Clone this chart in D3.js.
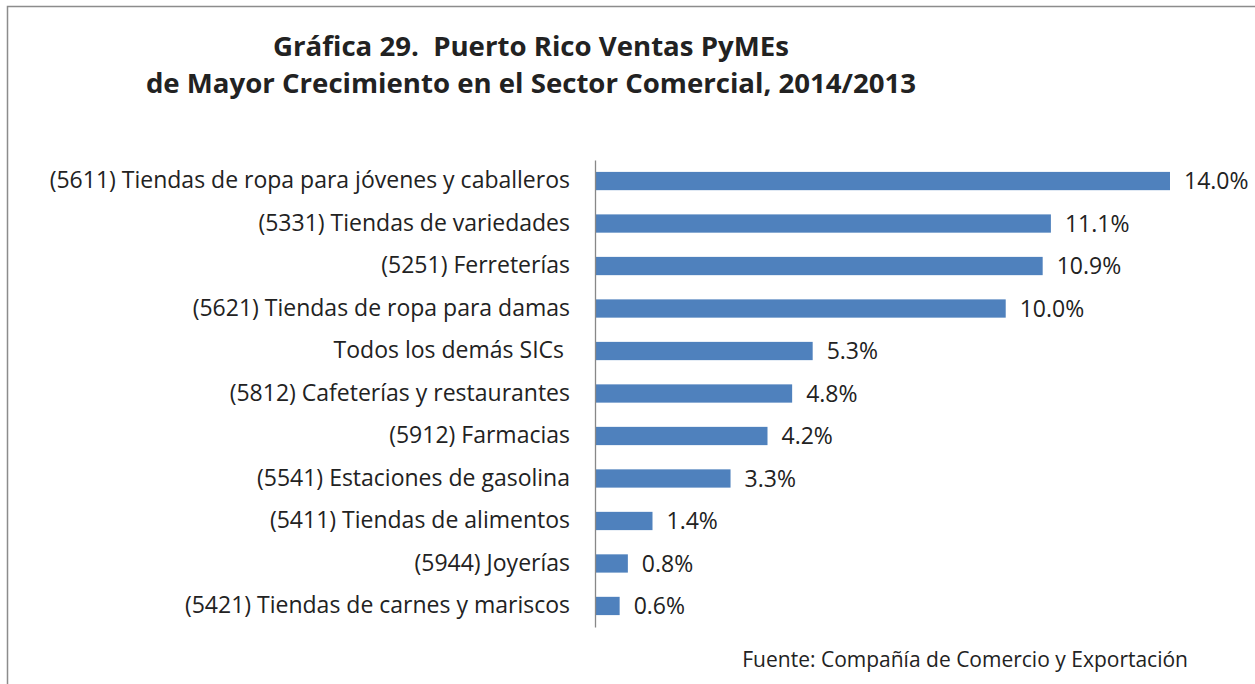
<!DOCTYPE html>
<html>
<head>
<meta charset="utf-8">
<script src="https://cdn.jsdelivr.net/npm/d3@7"></script>
<style>
  body { margin: 0; background: #fff; }
  svg text { font-family: "Open Sans", "Noto Sans", sans-serif; fill: #222; white-space: pre; }
</style>
</head>
<body>
<svg width="1255" height="684"></svg>
<script>
var categories = [
  "(5611) Tiendas de ropa para jóvenes y caballeros",
  "(5331) Tiendas de variedades",
  "(5251) Ferreterías",
  "(5621) Tiendas de ropa para damas",
  "Todos los demás SICs ",
  "(5812) Cafeterías y restaurantes",
  "(5912) Farmacias",
  "(5541) Estaciones de gasolina",
  "(5411) Tiendas de alimentos",
  "(5944) Joyerías",
  "(5421) Tiendas de carnes y mariscos"
];
var values = [14.0, 11.1, 10.9, 10.0, 5.3, 4.8, 4.2, 3.3, 1.4, 0.8, 0.6];
var titleLines = [
  "Gráfica 29.  Puerto Rico Ventas PyMEs",
  "de Mayor Crecimiento en el Sector Comercial, 2014/2013"
];
var source = "Fuente: Compañía de Comercio y Exportación";

var svg = d3.select("svg"),
    width = +svg.attr("width"),
    height = +svg.attr("height");

// frame
svg.append("path")
    .attr("d", "M7.5,684 V6.5 H1255")
    .attr("fill", "none")
    .attr("stroke", "#8c8c8c")
    .attr("stroke-width", 1.5);

svg.selectAll("text.title")
    .data(titleLines)
    .enter().append("text")
    .attr("class", "title")
    .attr("x", 531)
    .attr("y", function(d, i) { return 56 + i * 37; })
    .attr("text-anchor", "middle")
    .attr("font-size", 27.6)
    .attr("font-weight", "bold")
    .text(function(d) { return d; });

var x = d3.scaleLinear()
    .domain([0, 14])
    .range([595, 1170]);

var y = d3.scaleBand()
    .domain(categories)
    .range([160, 627])
    .paddingInner(0.57)
    .paddingOuter(0.28);

svg.append("g")
    .attr("fill", "#4f81bd")
  .selectAll("rect")
  .data(values)
  .enter().append("rect")
    .attr("x", x(0))
    .attr("y", function(d, i) { return y(categories[i]); })
    .attr("width", function(d) { return x(d) - x(0); })
    .attr("height", y.bandwidth());

svg.append("g")
  .selectAll("text")
  .data(values)
  .enter().append("text")
    .attr("x", function(d) { return x(d) + 14; })
    .attr("y", function(d, i) { return y(categories[i]) + y.bandwidth() / 2; })
    .attr("dy", "0.36em")
    .attr("font-size", 23)
    .text(function(d) { return d.toFixed(1) + "%"; });

var axis = svg.append("g")
    .attr("transform", "translate(" + x(0) + ",0)")
    .call(d3.axisLeft(y).tickSize(0).tickPadding(25));

axis.select(".domain")
    .attr("stroke", "#888")
    .attr("stroke-width", 1.3);

axis.selectAll("text")
    .attr("font-size", 23)
    .attr("font-family", "\"Open Sans\", \"Noto Sans\", sans-serif")
    .attr("fill", "#222");

svg.append("text")
    .attr("x", 1188)
    .attr("y", 667)
    .attr("text-anchor", "end")
    .attr("font-size", 21)
    .text(source);
</script>
</body>
</html>
